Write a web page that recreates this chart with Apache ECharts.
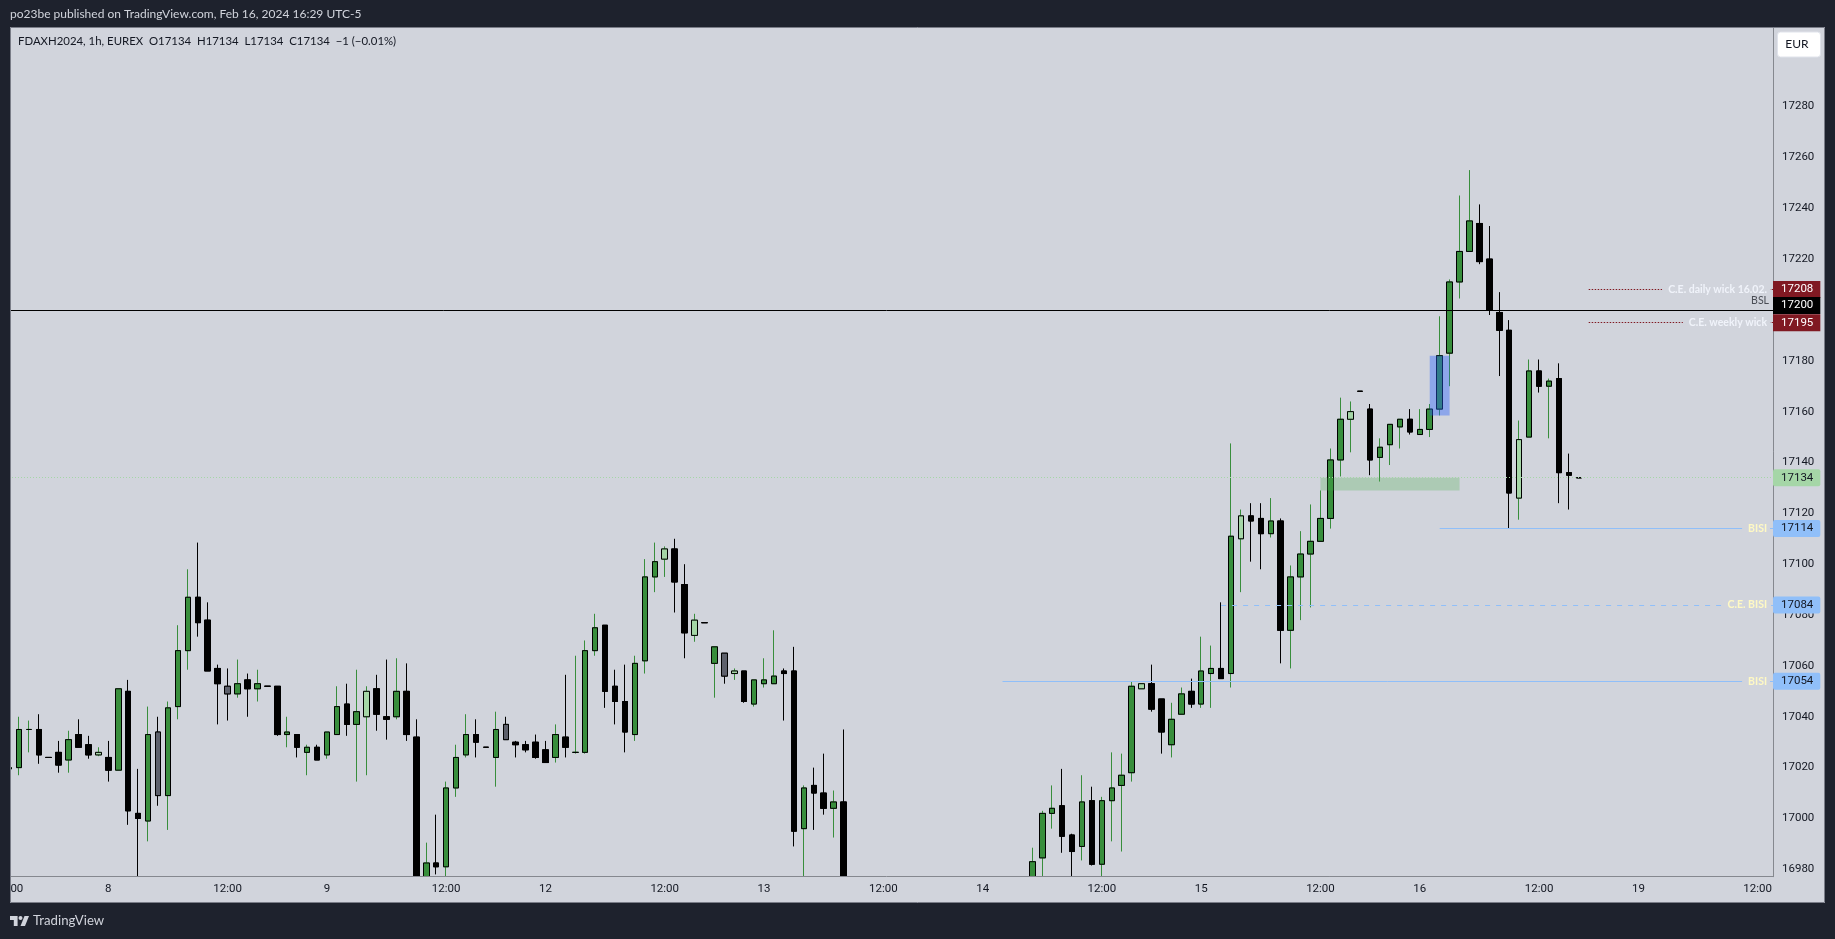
<!DOCTYPE html>
<html>
<head>
<meta charset="utf-8">
<title>FDAXH2024 1h</title>
<script src="https://cdn.jsdelivr.net/npm/echarts@6/dist/echarts.min.js"></script>
<style>
html,body{margin:0;padding:0;background:#1e222d;}
#chart{width:1835px;height:939px;}
</style>
</head>
<body>
<div id="chart"></div>
<script>
// one entry per hourly bar. G green, B black, L light green, S grey
var kinds = ('GGGBBBGBBLBGBBGSGGGBBBSGBGBBGBGBGGBGLBBGBBGBGGGBBGSBBBBGBGGGBBBGGGLBBLBGSLBGGGBBGBBGB' +
    '..................' +
    'GGGBBGBGGGGLBBGGBGGBGLBBGBGGGGGGLBBGGGBGGGGGGBBBBLGBGBBB').split('');

// null = bar sits completely under the visible range, could not be read
var opens = [17019.5,17020,17035,17035,17024,17026,17023,17033,17029,17025,17024,17019,17050,17002,16999,17034,17009,17044,17066,17087,17078,17059,17052,17049,17054.5,17051,17052,17052,17033,17033,17026,17028,17025,17033,17045,17037,17040,17051,17040,17040,17050,17032,16970,16982.5,16981,17012,17025,17033,17028,17024,17037,17030,17029,17030,17027,17024,17032,17026,17026,17066,17076,17052,17046,17033,17062,17095,17102,17106,17092,17072,17077,17061,17065,17057,17058,17045,17053,17053,17058,17058,16996,17013,17010,17004,17006.5,
    null,null,null,null,null,null,null,null,null,null,null,null,null,null,null,null,null,null,
    16970,16984.5,17002,17005,16993.5,16989,17007,16982,17007,17013,17018,17051,17053,17047,17029,17041,17050,17045,17057,17059,17057,17110,17119,17118,17112,17117,17074,17095,17104,17109,17118,17141,17157,17168,17161,17142,17147,17154,17157,17151,17153,17161,17183,17211,17223,17234,17220,17199,17192,17126,17150,17176,17170,17173,17136,17134];
var highs = [17020,17040,17038.5,17041,17024,17030.5,17034.5,17039,17032.5,17028,17030.5,17051,17054.5,17019.5,17044,17040,17046,17076,17098,17108.5,17085,17060.5,17059,17062.5,17057,17058.5,17052,17052,17040,17033,17029,17029,17034,17052,17053,17058.5,17052,17056.5,17062.5,17063,17061,17039,16990.5,17001.5,17014.5,17029,17041,17039,17028,17042,17040,17030.5,17030.5,17033,17030.5,17037,17056.5,17064,17070,17080.5,17076,17058.5,17060.5,17064,17102,17108.5,17107,17110,17100,17080.5,17077,17067.5,17065,17059,17058,17054.5,17063,17074,17059,17067.5,17013,17020,17025.5,17011,17035,
    null,null,null,null,null,null,null,null,null,null,null,null,null,null,null,null,null,null,
    16988.5,17003,17013,17019.5,16994,17017,17012.5,17008.5,17026,17025.5,17054,17053,17060.5,17047,17045.5,17051.5,17055,17071.5,17068,17085,17147.5,17121.5,17124,17124,17126,17118,17099.5,17113,17123.5,17129,17145.5,17165.5,17164,17168,17163,17149.5,17155,17157,17161,17161,17163,17197.5,17212,17245,17255,17241.5,17233,17207,17196,17156.5,17180.5,17180.5,17173,17179,17143.5,17134];
var lows = [17019.5,17017,17026,17021.5,17024,17018,17018,17028,17023.5,17024.5,17014.5,17019,16997.5,16970,16991,17005,16995.5,17039,17058.5,17071.5,17058,17037,17038.5,17047.5,17040,17046,17052,17032.5,17028,17024,17017,17023,17023.5,17033,17032.5,17014.5,17017,17034.5,17031,17039,17030.5,16955,16966,16978,16976,17008.5,17024,17024,17028,17012.5,17031,17024,17026,17023.5,17022,17022,17024,17025.5,17025.5,17064,17043.5,17037,17026,17030.5,17057,17089,17095,17081,17063,17069.5,17077,17047.5,17053,17054.5,17045.5,17044,17051.5,17053,17038.5,16989,16970,16995.5,17001.5,16992.5,16955,
    null,null,null,null,null,null,null,null,null,null,null,null,null,null,null,null,null,null,
    16965,16970,16996,16986.5,16970,16983.5,16981.5,16970,16991,16987,17014.5,17051,17042,17025.5,17024,17041,17043.5,17043.5,17043.5,17055,17051.5,17089,17101,17098,17110.5,17061,17059,17078,17083,17109,17114,17134.5,17144,17168,17135,17132.5,17139,17145.5,17151,17151,17150,17158.5,17170,17204.5,17223,17218,17198,17174,17114,17117.5,17150,17167.5,17149.5,17124,17121.5,17134];
var closes = [17020,17035,17035,17025,17024,17021,17031,17028,17025,17026,17019,17051,17003,17000,17033,17009,17043.5,17066,17087,17077,17058,17053,17049,17053,17051,17053,17052,17033,17034,17028,17028,17023,17034,17044,17037,17042,17050,17041,17039,17050,17033,16965,16982.5,16981,17012,17024,17033,17030,17028,17035,17031,17029,17027,17024,17022,17033,17028,17026,17066,17075,17050,17046,17034,17061,17095,17101,17106,17093,17073,17078,17077,17067.5,17056,17058,17046,17054.5,17054.5,17056,17057,16995,17012,17010,17004,17006.5,16960,
    null,null,null,null,null,null,null,null,null,null,null,null,null,null,null,null,null,null,
    16983,17002,17004,16993,16987,17006.5,16982,17007,17012,17017,17052,17053,17043,17034,17039,17049,17045,17058,17059,17055,17111,17119,17117,17112,17117,17074,17095,17104,17109,17118,17141,17157,17160,17168,17141,17146,17155,17157,17152,17153,17161,17182,17211,17223,17235,17219,17200,17192,17128,17149,17176,17170,17172,17136,17135,17134];

// horizontal levels and their price tags
var levelPrices = [17208,17200,17195,17134,17114,17084,17054];
var levelStarts = [159,null,159,null,144,122,100];
var levelTexts = ['C.E. daily wick 16.02.','BSL','C.E. weekly wick','','BISI','C.E. BISI','BISI'];
var levelKinds = ['red','black','red','green','blue','blue','blue'];
var levelLines = [[1.5,1.5],'solid',[1.5,1.5],[1,2],'solid',[5,6],'solid'];

var priceTicks = [16980,17000,17020,17040,17060,17080,17100,17120,17140,17160,17180,17200,17220,17240,17260,17280];
var timeTickIndex = [0,10,22,32,44,54,66,76,88,98,110,120,132,142,154,164,176];
var timeTickLabels = ['12:00','8','12:00','9','12:00','12','12:00','13','12:00','14','12:00','15','12:00','16','12:00','19','12:00'];

var BG = '#d1d4dc', DARK = '#1e222d', AXIS = '#85888f';
var FONT = 'Lato, sans-serif';
var NUMFONT = 'Roboto, sans-serif';
var xMin = -0.906, xMax = 177.55;

var fillOf = {G:'#388e3c', B:'#000000', L:'#a5d6a7', S:'#5d606b'};
var wickOf = {G:'#388e3c', B:'#000000', L:'#388e3c', S:'#000000'};
var tagBg = {red:'#801922', black:'#000000', green:'#a5d6a7', blue:'#90bff9'};
var tagFg = {red:'#ffffff', black:'#ffffff', green:'#131722', blue:'#131722'};
var lineCol = {red:'#801922', black:'#000000', green:'#a5d6a7', blue:'#90bff9'};
var textCol = {red:'#f0f3fa', black:'#4a4d55', green:'#131722', blue:'#fff9c4'};

var wickData = [], bodyData = [];
for (var i = 0; i < opens.length; i++) {
    if (opens[i] === null) continue;
    var k = kinds[i], o = opens[i], c = closes[i];
    wickData.push({value:[i,o,c,lows[i],highs[i]], itemStyle:{color:fillOf[k],color0:fillOf[k],borderColor:wickOf[k],borderColor0:wickOf[k],borderColorDoji:wickOf[k]}});
    bodyData.push({value:[i,o,c,Math.min(o,c),Math.max(o,c)], itemStyle:{color:fillOf[k],color0:fillOf[k],borderColor:'#000',borderColor0:'#000',borderColorDoji:'#000'}});
}

var lineData = [], tagData = [];
for (var n = 0; n < levelPrices.length; n++) {
    var p = levelPrices[n], lk = levelKinds[n];
    var start = levelStarts[n] === null ? xMin : levelStarts[n];
    var isBsl = levelTexts[n] === 'BSL';
    lineData.push([{
        coord:[start,p],
        lineStyle:{color:lineCol[lk],type:levelLines[n],width:1,opacity:1},
        label:{
            show:levelTexts[n] !== '',
            formatter:levelTexts[n],
            position:isBsl ? 'insideEndTop' : 'insideEnd',
            distance:isBsl ? 4 : 3,
            color:textCol[lk],
            fontFamily:FONT,
            fontSize:10.5,
            fontWeight:isBsl ? 'normal' : 'bold',
            backgroundColor:isBsl ? 'transparent' : BG,
            padding:isBsl ? 0 : [0,3,0,6]
        }
    },{coord:[xMax,p]}]);
    tagData.push({
        coord:[xMax,p],
        symbol:'rect',
        symbolSize:0,
        label:{
            show:true,
            position:'right',
            distance:0,
            formatter:String(p),
            offset:[0,p === 17200 ? -4.5 : 0],
            color:tagFg[lk],
            backgroundColor:tagBg[lk],
            fontFamily:NUMFONT,
            fontSize:11.5,
            lineHeight:11,
            padding:[3,7,3,8],
            borderRadius:lk === 'blue' || lk === 'green' ? 2 : 0
        }
    });
}

var chart = echarts.init(document.getElementById('chart'));
var option = {
    animation:false,
    backgroundColor:BG,
    grid:{left:0,top:27,right:62,height:849.7,show:false,outerBoundsMode:'none'},
    xAxis:{
        type:'value',min:xMin,max:xMax,z:10,
        axisLine:{onZero:false,lineStyle:{color:AXIS,width:1}},
        axisTick:{show:false},
        splitLine:{show:false},
        axisLabel:{
            customValues:timeTickIndex,
            color:'#131722',fontFamily:NUMFONT,fontSize:11.5,margin:6,
            formatter:function(v){return timeTickLabels[timeTickIndex.indexOf(v)];}
        }
    },
    yAxis:{
        type:'value',position:'right',min:16977.1,max:17311.27,
        axisLine:{show:true,onZero:false,lineStyle:{color:AXIS,width:1}},
        axisTick:{show:false},
        splitLine:{show:false},
        axisLabel:{
            customValues:priceTicks,
            color:'#131722',fontFamily:NUMFONT,fontSize:11.5,margin:9,
            padding:[2,0,0,0],
            formatter:function(v){return String(v);}
        }
    },
    series:[
        {
            type:'candlestick',
            name:'wicks',
            barWidth:6,
            encode:{x:0,y:[1,2,3,4]},
            data:wickData,
            z:2
        },
        {
            type:'candlestick',
            name:'FDAXH2024',
            barWidth:6,
            encode:{x:0,y:[1,2,3,4]},
            data:bodyData,
            z:3,
            markLine:{silent:true,symbol:'none',z:6,animation:false,data:lineData},
            markPoint:{silent:true,z:8,animation:false,data:tagData},
            markArea:{
                silent:true,z:5,animation:false,
                data:[
                    [{coord:[143,17182],itemStyle:{color:'rgba(41,98,255,0.4)'}},{coord:[145,17158.5]}],
                    [{coord:[132,17134],itemStyle:{color:'rgba(76,175,80,0.28)'}},{coord:[146,17129]}]
                ]
            }
        }
    ],
    graphic:[
        // time axis band, hides the part of bars below the pane (candlestick does not clip)
        {type:'rect',z:5,shape:{x:0,y:877,width:1773,height:27},style:{fill:BG}},
        // dark frame around the pane
        {type:'rect',z:100,shape:{x:0,y:0,width:10,height:939},style:{fill:DARK}},
        {type:'rect',z:100,shape:{x:0,y:0,width:1835,height:27},style:{fill:DARK}},
        {type:'rect',z:100,shape:{x:1825,y:0,width:10,height:939},style:{fill:DARK}},
        {type:'rect',z:100,shape:{x:0,y:903,width:1835,height:36},style:{fill:DARK}},
        {type:'rect',z:101,shape:{x:10.5,y:27.5,width:1814,height:875},style:{fill:'none',stroke:'#7a7d88',lineWidth:1}},
        {type:'text',z:102,style:{text:'po23be published on TradingView.com, Feb 16, 2024 16:29 UTC-5',x:10,y:14.5,fill:BG,font:'12px '+FONT,textVerticalAlign:'middle'}},
        {type:'text',z:102,style:{text:'FDAXH2024, 1h, EUREX  O17134  H17134  L17134  C17134  \u22121 (\u22120.01%)',x:18,y:41.5,fill:'#131722',font:'11.4px '+FONT,textVerticalAlign:'middle'}},
        {type:'rect',z:102,shape:{x:1777.5,y:32,width:43,height:25,r:3},style:{fill:'#ffffff',stroke:'#e0e3eb',lineWidth:1}},
        {type:'text',z:103,style:{text:'EUR',x:1797,y:44.5,fill:'#131722',font:'12px '+FONT,textAlign:'center',textVerticalAlign:'middle'}},
        // logo, T + dot + slash
        {type:'polygon',z:102,shape:{points:[[10,916],[17.6,916],[17.6,926],[13.8,926],[13.8,920],[10,920]]},style:{fill:BG}},
        {type:'circle',z:102,shape:{cx:20.5,cy:918,r:2},style:{fill:BG}},
        {type:'polygon',z:102,shape:{points:[[24.5,916],[29,916],[25,926],[20.5,926]]},style:{fill:BG}},
        {type:'text',z:102,style:{text:'TradingView',x:33,y:921,fill:BG,font:'13.2px '+FONT,textVerticalAlign:'middle'}}
    ]
};
chart.setOption(option);
</script>
</body>
</html>
